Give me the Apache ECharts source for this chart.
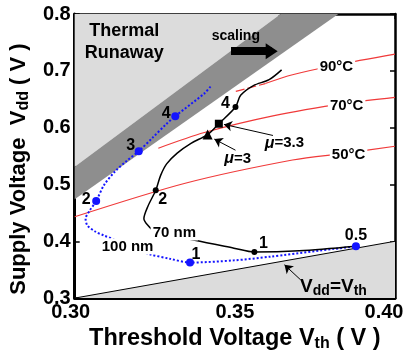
<!DOCTYPE html>
<html>
<head>
<meta charset="utf-8">
<script src="https://cdn.jsdelivr.net/npm/echarts@6/dist/echarts.min.js"></script>
<style>
  html, body { margin: 0; padding: 0; background: #fff; }
  #chart { width: 407px; height: 357px; }
</style>
</head>
<body>
<div id="chart"></div>
<script>
// Regions of the Vdd / Vth plane
const runawayLight = [[0.30, 0.531], [0.3643, 0.80], [0.30, 0.80]];
const runawayBand = [[0.30, 0.474], [0.3823, 0.80], [0.3643, 0.80], [0.30, 0.531]];
const belowDiagonal = [[0.30, 0.30], [0.40, 0.40], [0.40, 0.30]];
const vddEqualsVth = [[0.30, 0.30], [0.40, 0.40]];

// Junction-temperature isotherms
const iso90Dashed = [[0.3503, 0.6638], [0.3595, 0.6776]];
const iso90 = [[0.3595, 0.6776], [0.3680, 0.6931], [0.3817, 0.7103], [0.4000, 0.7293]];
const iso70 = [[0.3261, 0.5638], [0.3405, 0.5914], [0.3619, 0.6207], [0.3848, 0.6431], [0.4000, 0.6534]];
const iso50 = [[0.3000, 0.4431], [0.3345, 0.5022], [0.3680, 0.5431], [0.3848, 0.5552], [0.4000, 0.5672]];

// 70 nm technology trajectory
const nm70 = [
  [0.3878, 0.3914], [0.3701, 0.3833], [0.3561, 0.3810], [0.3497, 0.3879],
  [0.3375, 0.4017], [0.3247, 0.4190], [0.3229, 0.4276], [0.3216, 0.4397],
  [0.3229, 0.4621], [0.3253, 0.4897], [0.3268, 0.5155], [0.3287, 0.5362],
  [0.3320, 0.5552], [0.3363, 0.5724], [0.3415, 0.5879], [0.3450, 0.6069],
  [0.3502, 0.6362], [0.3518, 0.6569], [0.3558, 0.6741], [0.3607, 0.6845],
  [0.3646, 0.7017]
];
const nm70Points = [[0.3561, 0.3810], [0.3253, 0.4897], [0.3502, 0.6362]];
const nm70Labels = ['1', '2', '4'];
const mu3Point = [0.3415, 0.5879];
const mu33Point = [0.3450, 0.6069];

// 100 nm technology trajectory
const nm100 = [
  [0.3424, 0.6724], [0.3405, 0.6603], [0.3314, 0.6202], [0.3284, 0.6052],
  [0.3244, 0.5828], [0.3200, 0.5586], [0.3162, 0.5414], [0.3125, 0.5224],
  [0.3091, 0.4983], [0.3067, 0.4707], [0.3046, 0.4534], [0.3034, 0.4397],
  [0.3040, 0.4276], [0.3064, 0.4172], [0.3091, 0.4103], [0.3122, 0.4034],
  [0.3177, 0.3897], [0.3232, 0.3776], [0.3299, 0.3690], [0.3360, 0.3626],
  [0.3497, 0.3664], [0.3610, 0.3729], [0.3878, 0.3914]
];
const nm100Points = [[0.3878, 0.3914], [0.3360, 0.3626], [0.3067, 0.4707], [0.3200, 0.5586], [0.3314, 0.6202]];
const nm100Labels = ['0.5', '1', '2', '3', '4'];

// Axis ticks
const xTicks = [0.30, 0.35, 0.40];
const yTicks = [0.3, 0.4, 0.5, 0.6, 0.7, 0.8];

const FONT = 'Liberation Sans, Arial, Helvetica, sans-serif';
const BLUE = '#1414ff';
const RED = '#f03a3a';

const chart = echarts.init(document.getElementById('chart'), null, { renderer: 'canvas' });

function polygon(points, fill, z) {
  return {
    type: 'custom', coordinateSystem: 'cartesian2d', silent: true, z: z,
    data: [0],
    renderItem: function (params, api) {
      return {
        type: 'polygon',
        shape: { points: points.map(p => api.coord(p)) },
        style: { fill: fill, stroke: null }
      };
    }
  };
}

const plainText = {
  fontFamily: FONT, fontWeight: 'bold', color: '#000',
  textBorderWidth: 0, textShadowBlur: 0, opacity: 1
};

function markerSeries(points, labels, offsets, symbol, size, color) {
  return {
    type: 'scatter', z: 6, symbol: symbol, symbolSize: size, silent: true,
    itemStyle: { color: color, opacity: 1 },
    data: points.map((p, i) => ({
      value: p,
      label: labels
        ? Object.assign({ show: true, position: 'inside', formatter: labels[i], offset: offsets[i], fontSize: 16 }, plainText)
        : { show: false }
    }))
  };
}

const boxed = { backgroundColor: '#fff', padding: [1, 2, 0, 2] };
const notes = [
  { text: 'Thermal\nRunaway', at: [0.3155, 0.7500], style: { fontSize: 18, lineHeight: 22 } },
  { text: 'scaling', at: [0.3503, 0.7603], style: { fontSize: 14 } },
  { text: '90°C', at: [0.3817, 0.7086], style: Object.assign({ fontSize: 15 }, boxed) },
  { text: '70°C', at: [0.3849, 0.6397], style: Object.assign({ fontSize: 15 }, boxed) },
  { text: '50°C', at: [0.3855, 0.5534], style: Object.assign({ fontSize: 15 }, boxed) },
  { text: '70 nm', at: [0.3311, 0.4155], style: Object.assign({ fontSize: 15 }, boxed) },
  { text: '100 nm', at: [0.3165, 0.3914], style: Object.assign({ fontSize: 15 }, boxed) },
  { text: '{i|μ}=3', at: [0.3509, 0.5448], style: { fontSize: 15 } },
  { text: '{i|μ}=3.3', at: [0.3655, 0.5724], style: { fontSize: 15 } },
  { text: 'V{s|dd}=V{s|th}', at: [0.3808, 0.3207], style: { fontSize: 19 } }
];

function noteSeries() {
  return {
    type: 'scatter', z: 8, symbolSize: 1, silent: true,
    itemStyle: { color: 'rgba(0,0,0,0)', opacity: 1 },
    data: notes.map(n => ({
      value: n.at,
      label: Object.assign({
        show: true, position: 'inside', formatter: n.text,
        align: 'center', verticalAlign: 'middle',
        rich: {
          i: Object.assign({ fontStyle: 'italic', fontSize: 16 }, plainText),
          s: Object.assign({ fontSize: 14, padding: [9, 0, 0, 0] }, plainText)
        }
      }, plainText, n.style)
    }))
  };
}

const axisFont = { fontFamily: FONT, fontWeight: 'bold', fontSize: 20, color: '#000' };

const option = {
  animation: false,
  backgroundColor: '#fff',
  grid: { left: 67, right: 12, top: 14, bottom: 53, show: false },
  xAxis: [{
    type: 'value', min: xTicks[0], max: xTicks[xTicks.length - 1], interval: 0.05,
    name: 'Threshold Voltage V{s|th} ( V )', nameLocation: 'middle', nameGap: 19,
    nameTextStyle: {
      fontFamily: FONT, fontWeight: 'bold', fontSize: 23.5, color: '#000',
      rich: { s: { fontFamily: FONT, fontWeight: 'bold', fontSize: 16, color: '#000', padding: [10, 0, 0, 0] } }
    },
    axisLine: { lineStyle: { color: '#000', width: 3 } },
    axisTick: { inside: true, length: 5, lineStyle: { color: '#000', width: 1.5 } },
    splitLine: { show: false },
    axisLabel: Object.assign({
      margin: 4,
      formatter: function (v) {
        const s = v.toFixed(2);
        if (Math.abs(v - xTicks[0]) < 1e-9) return '{l|' + s + '}';
        if (Math.abs(v - xTicks[xTicks.length - 1]) < 1e-9) return '{r|' + s + '}';
        return s;
      },
      rich: {
        l: Object.assign({ padding: [0, 8, 0, 0] }, axisFont),
        r: Object.assign({ padding: [0, 22, 0, 0] }, axisFont)
      }
    }, axisFont)
  }, {
    type: 'value', position: 'top', min: xTicks[0], max: xTicks[xTicks.length - 1], interval: 0.05,
    axisLine: { lineStyle: { color: '#000', width: 2.5 } },
    axisTick: { inside: true, length: 5, lineStyle: { color: '#000', width: 1.5 } },
    axisLabel: { show: false }, splitLine: { show: false }
  }],
  yAxis: [{
    type: 'value', min: yTicks[0], max: yTicks[yTicks.length - 1], interval: 0.1,
    name: 'Supply Voltage  V{s|dd} ( V )', nameLocation: 'middle', nameGap: 35,
    nameTextStyle: {
      fontFamily: FONT, fontWeight: 'bold', fontSize: 22, color: '#000', padding: [0, 26, 0, 0],
      rich: { s: { fontFamily: FONT, fontWeight: 'bold', fontSize: 16, color: '#000', padding: [10, 0, 0, 0] } }
    },
    axisLine: { lineStyle: { color: '#000', width: 3 } },
    axisTick: { inside: true, length: 5, lineStyle: { color: '#000', width: 1.5 } },
    splitLine: { show: false },
    axisLabel: Object.assign({ margin: 4, formatter: v => v.toFixed(1) }, axisFont)
  }, {
    type: 'value', position: 'right', min: yTicks[0], max: yTicks[yTicks.length - 1], interval: 0.1,
    axisLine: { lineStyle: { color: '#000', width: 2.5 } },
    axisTick: { inside: true, length: 5, lineStyle: { color: '#000', width: 1.5 } },
    axisLabel: { show: false }, splitLine: { show: false }
  }],
  series: [
    polygon(runawayLight, '#dcdcdc', 1),
    polygon(runawayBand, '#8e8e8e', 1),
    polygon(belowDiagonal, '#dcdcdc', 1),
    {
      // Vdd = Vth boundary, with the thin pointer arrows for the annotations
      type: 'line', data: vddEqualsVth, z: 2, symbol: 'none', silent: true,
      lineStyle: { color: '#000', width: 1 },
      markLine: {
        silent: true, animation: false, label: { show: false },
        symbol: ['none', 'arrow'], symbolSize: 8,
        lineStyle: { color: '#000', width: 1, type: 'solid' },
        data: [
          [{ coord: [0.3502, 0.5603] }, { coord: [0.3436, 0.5798] }],
          [{ coord: [0.3619, 0.5862] }, { coord: [0.3466, 0.6057] }],
          [{ coord: [0.3704, 0.3328] }, { coord: [0.3655, 0.3586] }]
        ]
      }
    },
    {
      // thick "scaling" arrow
      type: 'line', data: [], z: 7, symbol: 'none', silent: true,
      markLine: {
        silent: true, animation: false, label: { show: false },
        symbol: ['none', 'triangle'], symbolSize: [16, 12],
        lineStyle: { color: '#000', width: 8, type: 'solid' },
        data: [[{ coord: [0.3488, 0.7345] }, { coord: [0.3615, 0.7345] }]]
      }
    },
    { type: 'line', data: iso90Dashed, z: 3, symbol: 'none', silent: true, lineStyle: { color: RED, width: 1.2, type: [9, 3] } },
    { type: 'line', data: iso90, z: 3, symbol: 'none', silent: true, smooth: 0.3, lineStyle: { color: RED, width: 1.2 } },
    { type: 'line', data: iso70, z: 3, symbol: 'none', silent: true, smooth: 0.3, lineStyle: { color: RED, width: 1.2 } },
    { type: 'line', data: iso50, z: 3, symbol: 'none', silent: true, smooth: 0.3, lineStyle: { color: RED, width: 1.2 } },
    { type: 'line', data: nm100, z: 4, symbol: 'none', silent: true, smooth: 0.3, lineStyle: { color: BLUE, width: 2, type: [2, 2] } },
    { type: 'line', data: nm70, z: 5, symbol: 'none', silent: true, smooth: 0.3, lineStyle: { color: '#000', width: 1.5 } },
    markerSeries(nm100Points, nm100Labels, [[0, -11], [6, -8], [-10, -2], [-8, -6], [-9, -3]], 'circle', 8, BLUE),
    markerSeries(nm70Points, nm70Labels, [[9, -8], [7, 9], [-10, -3]], 'circle', 6, '#000'),
    markerSeries([mu3Point], null, null, 'triangle', 10, '#000'),
    markerSeries([mu33Point], null, null, 'rect', 8, '#000'),
    noteSeries()
  ]
};

chart.setOption(option);
</script>
</body>
</html>
